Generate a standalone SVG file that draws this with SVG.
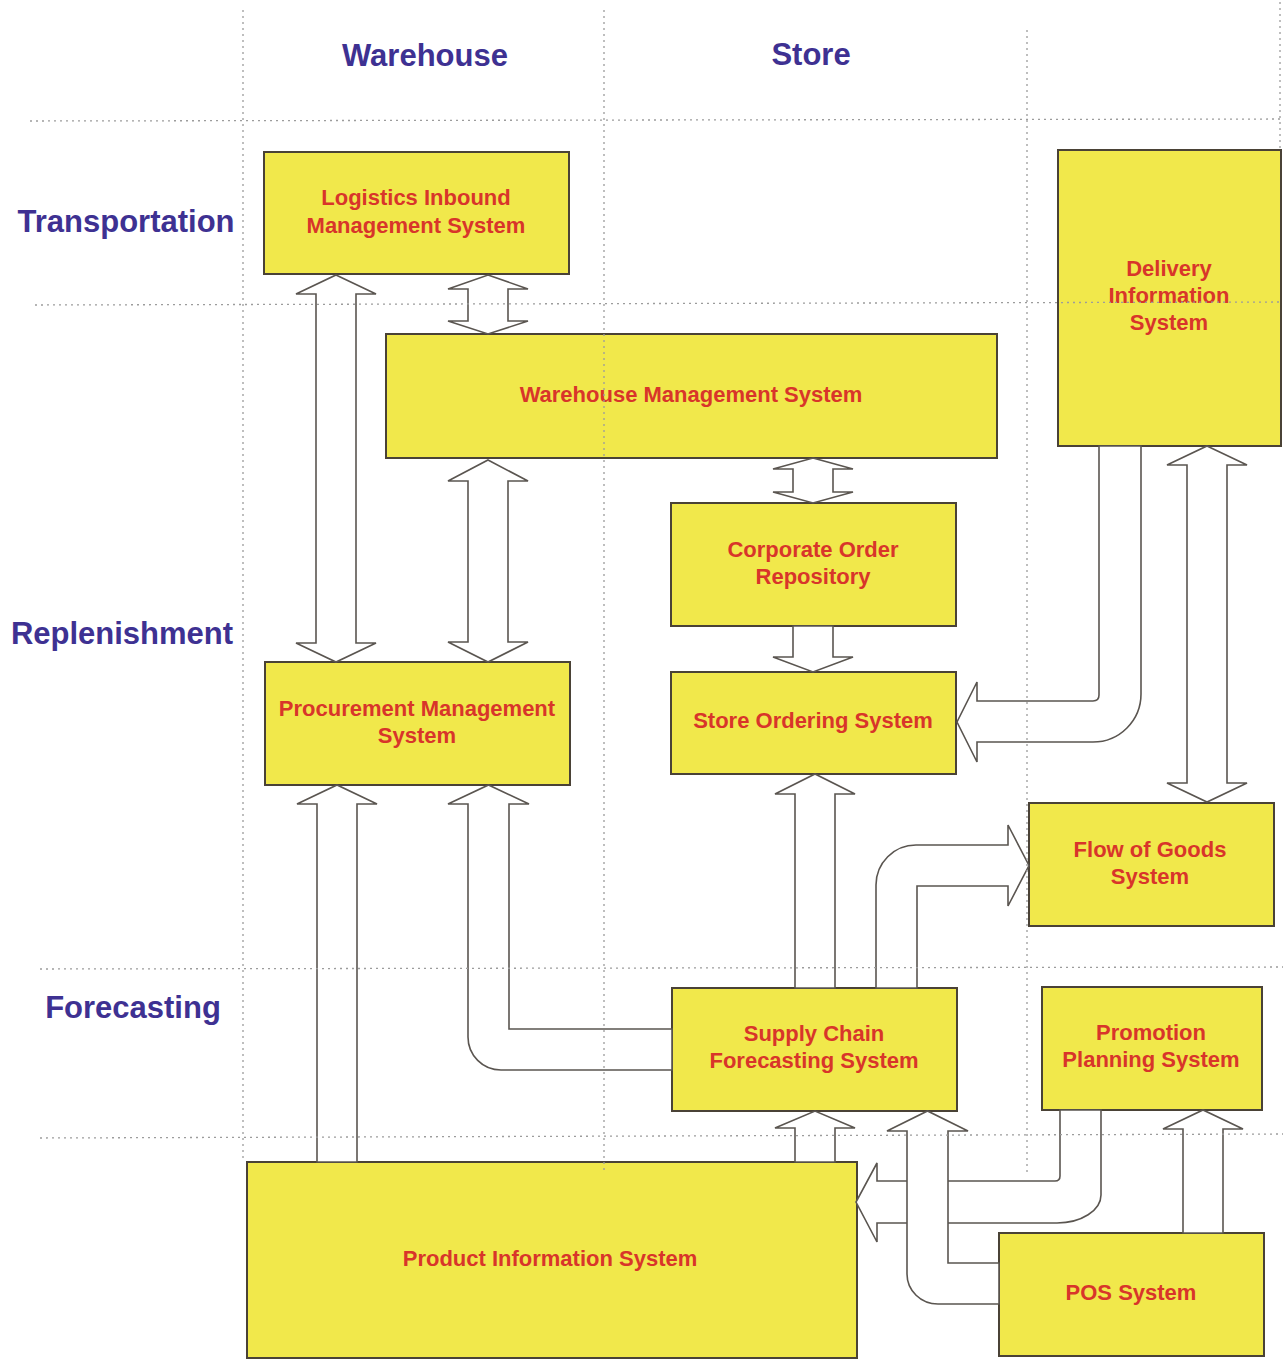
<svg xmlns="http://www.w3.org/2000/svg" width="1283" height="1362" viewBox="0 0 1283 1362">
  <style>
    .box { fill: #f1e84b; stroke: #4a4236; stroke-width: 2; }
    .txt { font-family: "Liberation Sans", Arial, sans-serif; font-weight: bold; font-size: 22px; fill: #d8352a; text-anchor: middle; }
    .lbl { font-family: "Liberation Sans", Arial, sans-serif; font-weight: bold; font-size: 31px; fill: #3e3192; text-anchor: middle; }
    .arrow { fill: #ffffff; stroke: #5a5550; stroke-width: 1.6; stroke-linejoin: miter; }
    .grid { stroke: #9c9c9c; stroke-width: 1.3; stroke-dasharray: 2 4; fill: none; }
  </style>
  <rect width="1283" height="1362" fill="#ffffff"/>

  <!-- lane labels -->
  <g id="labels">
    <text class="lbl" x="425" y="66">Warehouse</text>
    <text class="lbl" x="811" y="65">Store</text>
    <text class="lbl" x="126" y="232">Transportation</text>
    <text class="lbl" x="122" y="644">Replenishment</text>
    <text class="lbl" x="133" y="1018">Forecasting</text>
  </g>

  <!-- systems -->
  <g id="logistics-inbound">
    <rect class="box" x="264" y="152" width="305" height="122"/>
    <text class="txt" x="416" y="205">Logistics Inbound</text>
    <text class="txt" x="416" y="233">Management System</text>
  </g>
  <g id="warehouse-management">
    <rect class="box" x="386" y="334" width="611" height="124"/>
    <text class="txt" x="691" y="402">Warehouse Management System</text>
  </g>
  <g id="delivery-information">
    <rect class="box" x="1058" y="150" width="223" height="296"/>
    <text class="txt" x="1169" y="276">Delivery</text>
    <text class="txt" x="1169" y="303">Information</text>
    <text class="txt" x="1169" y="330">System</text>
  </g>
  <g id="corporate-order-repository">
    <rect class="box" x="671" y="503" width="285" height="123"/>
    <text class="txt" x="813" y="557">Corporate Order</text>
    <text class="txt" x="813" y="584">Repository</text>
  </g>
  <g id="store-ordering">
    <rect class="box" x="671" y="672" width="285" height="102"/>
    <text class="txt" x="813" y="728">Store Ordering System</text>
  </g>
  <g id="procurement-management">
    <rect class="box" x="265" y="662" width="305" height="123"/>
    <text class="txt" x="417" y="716">Procurement Management</text>
    <text class="txt" x="417" y="743">System</text>
  </g>
  <g id="flow-of-goods">
    <rect class="box" x="1029" y="803" width="245" height="123"/>
    <text class="txt" x="1150" y="857">Flow of Goods</text>
    <text class="txt" x="1150" y="884">System</text>
  </g>
  <g id="supply-chain-forecasting">
    <rect class="box" x="672" y="988" width="285" height="123"/>
    <text class="txt" x="814" y="1041">Supply Chain</text>
    <text class="txt" x="814" y="1068">Forecasting System</text>
  </g>
  <g id="promotion-planning">
    <rect class="box" x="1042" y="987" width="220" height="123"/>
    <text class="txt" x="1151" y="1040">Promotion</text>
    <text class="txt" x="1151" y="1067">Planning System</text>
  </g>
  <g id="product-information">
    <rect class="box" x="247" y="1162" width="610" height="196"/>
    <text class="txt" x="550" y="1266">Product Information System</text>
  </g>
  <g id="pos">
    <rect class="box" x="999" y="1233" width="265" height="123"/>
    <text class="txt" x="1131" y="1300">POS System</text>
  </g>

  <!-- block-arrow connectors -->
  <g id="connectors">
    <!-- Logistics Inbound <-> Procurement -->
    <path class="arrow" d="M336,275 L376,294 L356,294 L356,643 L376,643 L336,662 L296,643 L316,643 L316,294 L296,294 Z"/>
    <!-- Logistics Inbound <-> Warehouse Management -->
    <path class="arrow" d="M488,275 L528,289 L508,289 L508,321 L528,321 L488,334 L448,321 L468,321 L468,289 L448,289 Z"/>
    <!-- Warehouse Management <-> Procurement -->
    <path class="arrow" d="M488,460 L528,481 L508,481 L508,642 L528,642 L488,662 L448,642 L468,642 L468,481 L448,481 Z"/>
    <!-- Warehouse Management <-> Corporate Order Repository -->
    <path class="arrow" d="M813,458 L853,469 L833,469 L833,492 L853,492 L813,503 L773,492 L793,492 L793,469 L773,469 Z"/>
    <!-- Corporate Order Repository -> Store Ordering -->
    <path class="arrow" d="M793,626 L833,626 L833,657 L853,657 L813,672 L773,657 L793,657 Z"/>
    <!-- Supply Chain Forecasting -> Store Ordering -->
    <path class="arrow" d="M795,988 L795,794 L775,794 L815,774 L855,794 L835,794 L835,988 Z"/>
    <!-- Product Information -> Procurement -->
    <path class="arrow" d="M317,1162 L317,804 L297,804 L337,785 L377,804 L357,804 L357,1162 Z"/>
    <!-- Product Information -> Supply Chain Forecasting -->
    <path class="arrow" d="M795,1162 L795,1128 L775,1128 L815,1111 L855,1128 L835,1128 L835,1162 Z"/>
    <!-- POS -> Promotion Planning -->
    <path class="arrow" d="M1183,1233 L1183,1129 L1163,1129 L1203,1110 L1243,1129 L1223,1129 L1223,1233 Z"/>
    <!-- Delivery Information <-> Flow of Goods -->
    <path class="arrow" d="M1207,446 L1247,465 L1227,465 L1227,783 L1247,783 L1207,802 L1167,783 L1187,783 L1187,465 L1167,465 Z"/>
    <!-- Supply Chain Forecasting -> Flow of Goods -->
    <path class="arrow" d="M876,988 L876,885 A40,40 0 0 1 916,845 L1008,845 L1008,825 L1029,865.5 L1008,906 L1008,886 L917,886 L917,988 Z"/>
    <!-- Supply Chain Forecasting -> Procurement -->
    <path class="arrow" d="M672,1029 L509,1029 L509,804 L529,804 L488.5,785 L448,804 L468,804 L468,1037 A33,33 0 0 0 501,1070 L672,1070 Z"/>
    <!-- Delivery Information -> Store Ordering -->
    <path class="arrow" d="M1099,446 L1099,695 Q1099,701 1093,701 L977,701 L977,682 L957,722 L977,762 L977,742 L1093,742 A48,48 0 0 0 1141,694 L1141,446 Z"/>
    <!-- Promotion Planning -> Product Information -->
    <path class="arrow" d="M1060,1110 L1060,1176 Q1060,1181 1055,1181 L877,1181 L877,1163 L856,1202 L877,1242 L877,1223 L1057,1223 A44,28 0 0 0 1101,1195 L1101,1110 Z"/>
    <!-- POS -> Supply Chain Forecasting -->
    <path class="arrow" d="M999,1263 L948,1263 L948,1131 L968,1131 L927.5,1111 L887,1131 L907,1131 L907,1274 A31,30 0 0 0 938,1304 L999,1304 Z"/>
  </g>

  <!-- dotted lane grid -->
  <g id="grid">
    <line class="grid" x1="243" y1="10" x2="243" y2="1160"/>
    <line class="grid" x1="604" y1="10" x2="604" y2="1174"/>
    <line class="grid" x1="1027" y1="30" x2="1027" y2="1176"/>
    <line class="grid" x1="1280" y1="2" x2="1280" y2="150"/>
    <line class="grid" x1="30" y1="121" x2="1283" y2="119"/>
    <line class="grid" x1="35" y1="305" x2="1283" y2="302"/>
    <line class="grid" x1="40" y1="969" x2="1283" y2="967"/>
    <line class="grid" x1="40" y1="1138" x2="1283" y2="1134"/>
  </g>
</svg>
